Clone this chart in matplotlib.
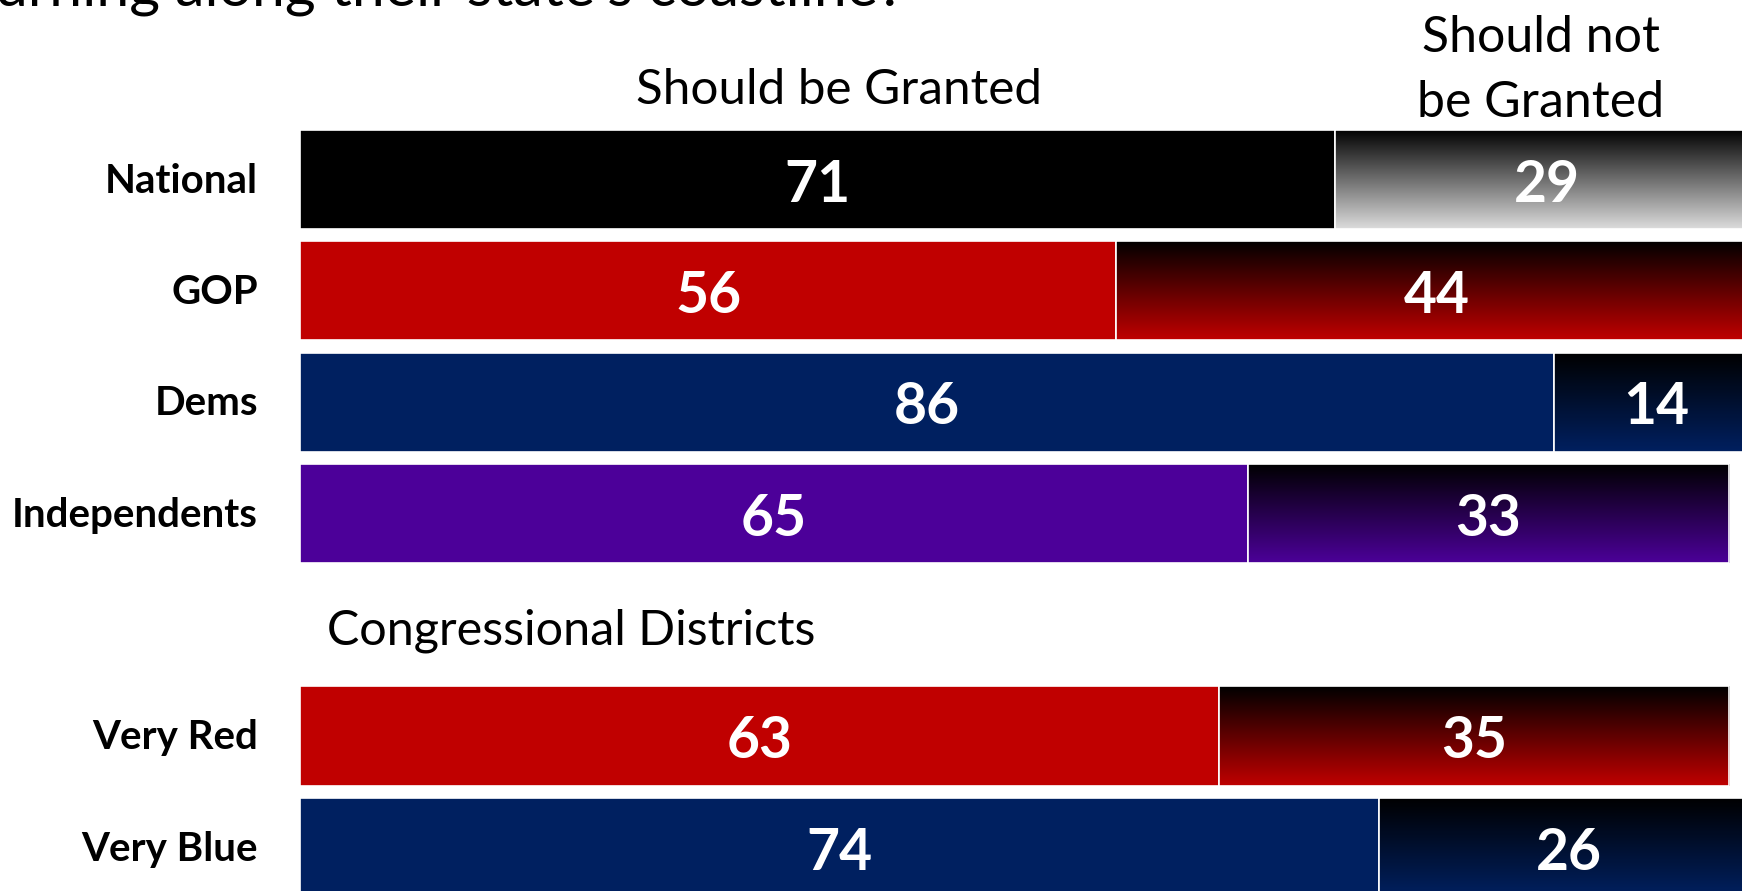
import numpy as np
import matplotlib
matplotlib.use("Agg")
import matplotlib.pyplot as plt
from matplotlib.colors import LinearSegmentedColormap

plt.rcParams['font.family'] = ['Lato', 'DejaVu Sans']

# Survey results: share saying permits should / should not be granted
categories = ["National", "GOP", "Dems", "Independents", "Very Red", "Very Blue"]
granted = [71, 56, 86, 65, 63, 74]
not_granted = [29, 44, 14, 33, 35, 26]
rows = [0, 1, 2, 3, 5, 6]

solid_colors = ["#000000", "#C00000", "#002060", "#4C0099", "#C00000", "#002060"]
grad_bottom = ["#DCDCDC", "#C00000", "#002060", "#4C0099", "#C00000", "#002060"]

title_tail = "urning along their state's coastline?"
head_granted = "Should be Granted"
head_not = ["Should not", "be Granted"]
section_label = "Congressional Districts"

W, H = 1742, 891
fig = plt.figure(figsize=(W / 100, H / 100), dpi=100)
fig.patch.set_facecolor("white")

left_px = 300
px_per_unit = 14.58
row_px = 111.3
row0_px = 179.5

ax = fig.add_axes([left_px / W, 0, 1 - left_px / W, 1])
xmax = (W - left_px) / px_per_unit
ymin = (H - row0_px) / row_px
ymax = -row0_px / row_px
ax.set_xlim(0, xmax)
ax.set_ylim(ymin, ymax)
ax.axis("off")

bar_h = 0.89

for i, (y, g, n) in enumerate(zip(rows, granted, not_granted)):
    ax.barh(y, g, height=bar_h, left=0, color=solid_colors[i],
            edgecolor="white", linewidth=1.2, zorder=2)
    # vertical gradient from black at the top to the group colour at the bottom
    cmap = LinearSegmentedColormap.from_list("g%d" % i, ["#000000", grad_bottom[i]])
    grad = np.linspace(0, 1, 256).reshape(-1, 1)
    im = ax.imshow(grad, extent=(g, g + n, y + bar_h / 2, y - bar_h / 2),
                   origin="upper", aspect="auto", cmap=cmap, zorder=2,
                   interpolation="bilinear")
    frame = ax.barh(y, n, height=bar_h, left=g, facecolor="none",
                    edgecolor="white", linewidth=1.2, zorder=3)
    im.set_clip_path(frame[0])

    ax.text(g / 2, y + 0.2, str(g), ha="center", va="baseline",
            color="white", fontsize=41, fontweight="bold", zorder=4)
    ax.text(g + n / 2, y + 0.2, str(n), ha="center", va="baseline",
            color="white", fontsize=41, fontweight="bold", zorder=4)

    ax.text(-42 / px_per_unit, y + 0.12, categories[i], ha="right", va="baseline",
            fontsize=29, fontweight="bold", color="black", clip_on=False)

ax.set_xlim(0, xmax)
ax.set_ylim(ymin, ymax)

def to_y(px):
    return (px - row0_px) / row_px

def to_x(px):
    return (px - left_px) / px_per_unit

ax.text(to_x(839), to_y(104), head_granted, ha="center", va="baseline",
        fontsize=35.6, color="black", clip_on=False)
for k, line in enumerate(head_not):
    ax.text(to_x(1541), to_y(52 + 65 * k), line, ha="center", va="baseline",
            fontsize=36, color="black", clip_on=False)
ax.text(to_x(327), to_y(645), section_label, ha="left", va="baseline",
        fontsize=34.9, color="black", clip_on=False)

fig.text(-5 / W, 1 - 5 / H, title_tail, ha="left", va="baseline",
         fontsize=42.5, color="black")

fig.savefig("out.png", dpi=100, facecolor="white")
